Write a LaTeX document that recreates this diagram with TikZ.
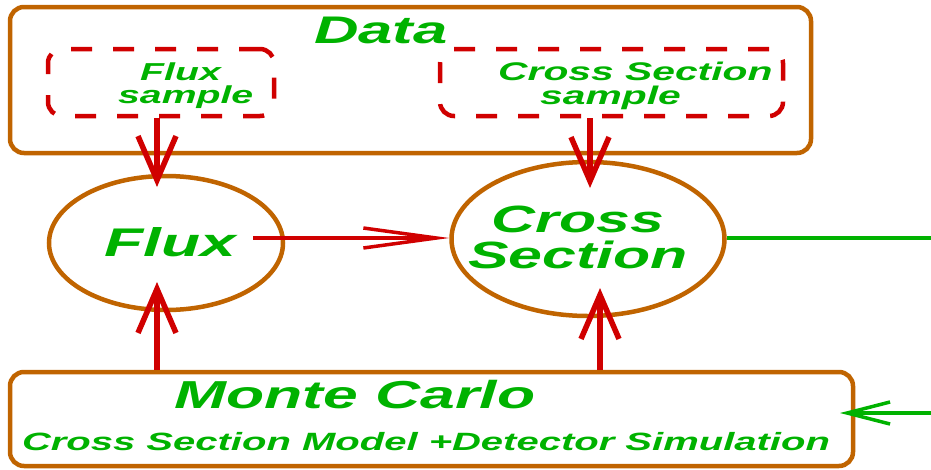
\documentclass[tikz,border=0pt]{standalone}
\usepackage{fontspec}
\newfontfamily\lbl{Liberation Sans}[FakeStretch=1.6]
\usetikzlibrary{shapes.geometric,arrows.meta}
\definecolor{frame}{RGB}{192,100,0}
\definecolor{flow}{RGB}{208,0,0}
\definecolor{txt}{RGB}{0,178,0}
\newcommand\lblsize[2]{\lbl\bfseries\itshape\fontsize{#1}{#2}\selectfont}

\begin{document}
\begin{tikzpicture}[x=1pt,y=-1pt,
  box/.style={draw=frame,line width=4.5pt,rounded corners=14pt,inner sep=0pt},
  sampbox/.style={draw=flow,line width=4.5pt,rounded corners=14pt,
    dash pattern=on 21pt off 21pt,inner sep=0pt},
  oval/.style={ellipse,draw=frame,line width=4.5pt,inner sep=0pt},
  lab/.style={text=txt,inner sep=0pt},
  feed/.style={draw=flow,line width=5.5pt,
    -{Straight Barb[length=44pt,width=38pt]}},
  pass/.style={draw=flow,line width=3.5pt,
    -{Straight Barb[length=73pt,width=20pt]}},
  result/.style={draw=txt,line width=3.5pt},
  input/.style={draw=txt,line width=3.5pt,
    -{Straight Barb[length=43pt,width=22pt]}}]
\useasboundingbox (0,0) rectangle (931,469);

% data block with its two samples
\node[box,minimum width=801pt,minimum height=146pt] (data) at (410.5,80) {};
\node[lab,font=\lblsize{38.5}{36},anchor=base] (datat) at (381,43) {Data};
\node[sampbox,minimum width=226pt,minimum height=67pt] (fsample) at (161,82.5) {};
\node[lab,font=\lblsize{24.5}{23},align=left,anchor=west] (fsamplet) at (118,86)
  {\hspace*{22pt}Flux\\sample};
\node[sampbox,minimum width=343pt,minimum height=67pt] (xsample) at (611.5,82.5) {};
\node[lab,font=\lblsize{25.5}{23.5},align=left,anchor=west] (xsamplet) at (498,86)
  {Cross Section\\\hspace*{42pt}sample};

% the two measured quantities
\node[oval,minimum width=234pt,minimum height=134pt] (flux) at (166,243) {};
\node[lab,font=\lblsize{40}{36},anchor=base] (fluxt) at (170,256) {Flux};
\node[oval,minimum width=273pt,minimum height=154pt] (xsec) at (588,239) {};
\node[lab,font=\lblsize{38}{36},align=center] (xsect) at (578,237) {Cross\\Section};

% simulation block
\node[box,minimum width=843pt,minimum height=94pt] (mc) at (431.5,419) {};
\node[lab,font=\lblsize{39}{36},anchor=base] (mct) at (355,408) {Monte Carlo};
\node[lab,font=\lblsize{25}{24},anchor=base] (mcsub) at (426,450)
  {Cross Section Model +Detector Simulation};

% connector end points
\coordinate (fluxtop) at (157,187);
\coordinate (fluxbot) at (157,282);
\coordinate (xsectop) at (590,188);
\coordinate (xsecbot) at (600,288);
\coordinate (fluxout) at (253,238);
\coordinate (outR) at (931,238);
\coordinate (inR) at (931,413);
\coordinate (inTip) at (840,413);

% connectors
\draw[feed] (fluxtop |- fsample.south) -- (fluxtop);
\draw[feed] (xsectop |- xsample.south) -- (xsectop);
\draw[feed] (fluxbot |- mc.north) -- (fluxbot);
\draw[feed] (xsecbot |- mc.north) -- (xsecbot);
\draw[pass] (fluxout) -- (fluxout -| xsec.west);
\draw[result] (outR -| xsec.east) -- (outR);
\draw[input] (inR) -- (inTip);
\end{tikzpicture}
\end{document}
